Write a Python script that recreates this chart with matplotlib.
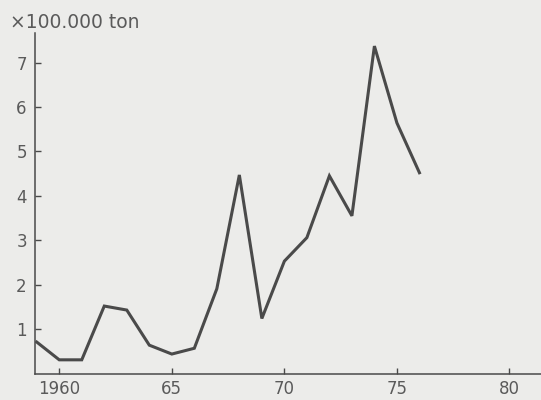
import numpy as np
import matplotlib.pyplot as plt

years = [1959, 1960, 1961, 1962, 1963, 1964, 1965, 1966, 1967, 1968,
         1969, 1970, 1971, 1972, 1973, 1974, 1975, 1976]
aanvoer = [0.71, 0.31, 0.31, 1.52, 1.43, 0.64, 0.44, 0.57, 1.91, 4.47,
           1.24, 2.53, 3.06, 4.45, 3.55, 7.37, 5.64, 4.52]

xticks = [1960, 1965, 1970, 1975, 1980]
xticklabels = ["1960", "65", "70", "75", "80"]
yticks = [1, 2, 3, 4, 5, 6, 7]

bg = "#ececea"
ink = "#4a4a4a"
txt = "#5a5a5a"

fig = plt.figure(figsize=(5.41, 4.0), dpi=100, facecolor=bg)
ax = fig.add_axes([0.065, 0.066, 0.935, 0.851], facecolor=bg)

ax.plot(years, aanvoer, color=ink, linewidth=2.2, solid_joinstyle="miter")

ax.set_xlim(1958.93, 1981.4)
ax.set_ylim(0, 7.66)

ax.set_xticks(xticks)
ax.set_xticklabels(xticklabels)
ax.set_yticks(yticks)

for side in ["top", "right"]:
    ax.spines[side].set_visible(False)
for side in ["left", "bottom"]:
    ax.spines[side].set_color(ink)
    ax.spines[side].set_linewidth(1.1)

ax.tick_params(direction="in", length=4, width=1.0, color=ink,
               labelcolor=txt, labelsize=12)
ax.tick_params(axis="x", pad=4.5)
ax.tick_params(axis="y", pad=6)

fig.text(0.018, 0.93, "×100.000 ton", fontsize=13.5, color=txt,
         ha="left", va="baseline")

fig.savefig("out.png", dpi=100, facecolor=bg)
